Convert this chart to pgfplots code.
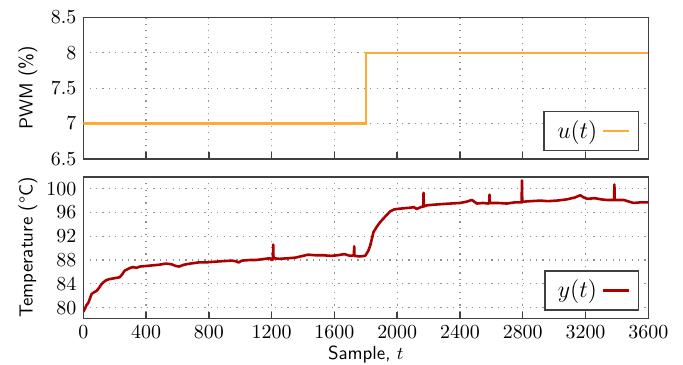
\documentclass[border=0pt]{standalone}
\usepackage{pgfplots}
\pgfplotsset{compat=1.18}
\definecolor{uorange}{RGB}{255,170,51}
\definecolor{yred}{RGB}{170,0,0}
\definecolor{axgray}{RGB}{64,64,64}
\begin{document}
\begin{tikzpicture}
\useasboundingbox (-41.65bp,-23.35bp) rectangle (299.85bp,159.15bp);
\pgfplotsset{
 myax/.style={
  scale only axis, width=282.5bp, height=70.75bp,
  xmin=0, xmax=3600, xtick={0,400,...,3600},
  /pgf/number format/1000 sep={},
  grid=major, major grid style={dash pattern=on 0.6pt off 2.6pt, gray!85, line width=0.6pt},
  axis line style={axgray, line width=0.75pt},
  tick style={axgray, line width=0.75pt},
  xtick pos=bottom, ytick style={draw=none}, xtick align=inside,
  major tick length=3.2bp,
  tick label style={font=\fontsize{10}{12}\selectfont},
  label style={font=\sffamily\fontsize{9.5}{11}\selectfont},
  ylabel style={at={(axis description cs:-0.098,0.5)}, anchor=center},
  legend style={at={(0.984,0.055)}, anchor=south east, draw=axgray, line width=0.8pt,
    font=\fontsize{11.5}{13}\selectfont, inner xsep=4bp, inner ysep=2.5bp,
    nodes={inner xsep=2.5bp}},
  legend plot pos=right,
  legend image code/.code={\draw[#1] (0bp,0bp) -- (13bp,0bp);},
 }
}
\begin{axis}[myax, at={(0,79.7bp)}, anchor=south west,
  ymin=6.5, ymax=8.5, ytick={6.5,7,7.5,8,8.5}, xticklabels={},
  ylabel={PWM (\%)}]
\addplot[uorange, line width=1.1pt] coordinates {(0,7) (1800,7) (1800,8) (3600,8)};
\addlegendentry{$u(t)$}
\end{axis}
\begin{axis}[myax, at={(0,0)}, anchor=south west,
  ymin=78.2, ymax=102, ytick={80,84,...,100},
  ylabel={Temperature (\textdegree C)}, xlabel={Sample, $t$},
  xlabel style={yshift=3bp}]
\addplot[yred, line width=1.3pt, line join=round] table {
0 79.3
10 79.8
20 80.4
32 80.8
42 81.5
53 82.3
70 82.6
84 82.8
100 83.3
115 83.9
126 84.2
145 84.6
168 84.8
190 84.9
210 85.0
232 85.1
248 85.6
263 86.2
285 86.5
300 86.7
316 86.8
340 86.7
360 86.9
400 87.0
440 87.1
480 87.2
526 87.4
560 87.3
590 87.0
610 86.9
640 87.2
680 87.4
737 87.6
780 87.6
830 87.7
880 87.8
947 87.9
970 87.8
990 87.6
1010 87.9
1060 88.0
1100 88.0
1158 88.2
1190 88.3
1200 88.0
1208 88.1
1210 90.6
1212 88.3
1250 88.2
1305 88.3
1350 88.4
1400 88.7
1432 88.9
1480 88.8
1530 88.8
1579 88.7
1620 88.8
1663 89.0
1700 88.7
1724 88.8
1726 90.3
1728 88.7
1760 88.6
1796 88.7
1815 89.5
1828 90.4
1849 92.7
1870 93.6
1892 94.4
1920 95.2
1956 96.2
1980 96.5
2003 96.6
2040 96.7
2083 96.8
2105 96.9
2125 96.6
2150 96.9
2166 97.0
2168 99.3
2170 97.0
2189 97.2
2230 97.3
2280 97.4
2338 97.5
2400 97.6
2440 97.8
2476 98.1
2508 97.5
2545 97.6
2582 97.5
2586 97.6
2588 99.0
2590 97.6
2640 97.6
2699 97.5
2750 97.7
2793 97.7
2795 101.4
2797 97.8
2850 97.9
2912 98.0
2960 97.9
3018 98.0
3080 98.2
3130 98.5
3167 98.9
3190 98.5
3210 98.3
3260 98.4
3300 98.2
3340 98.1
3382 98.1
3384 100.7
3386 98.1
3444 98.1
3480 97.8
3507 97.6
3550 97.7
3600 97.7
};
\addlegendentry{$y(t)$}
\end{axis}
\end{tikzpicture}
\end{document}
